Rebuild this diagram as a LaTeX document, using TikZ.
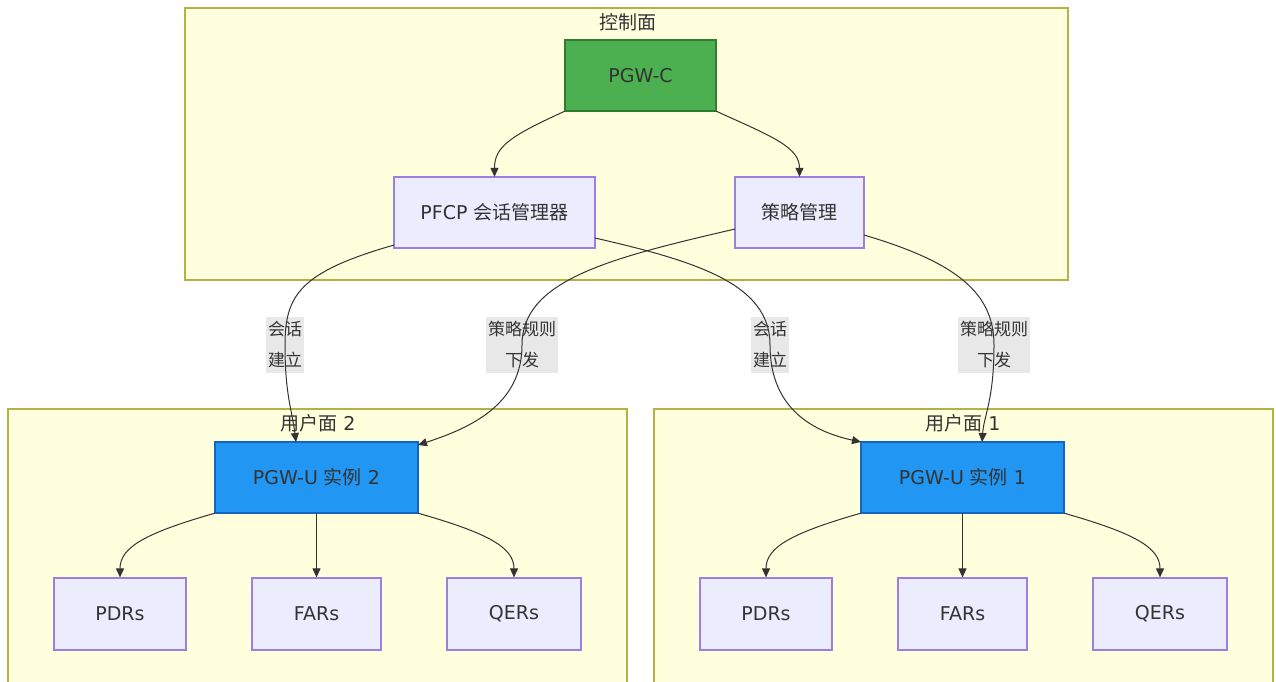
\documentclass[tikz,border=0pt]{standalone}
\usepackage{fontspec}
\setmainfont{DejaVu Sans}
\newfontfamily\cjk{Noto Sans CJK SC}
\usetikzlibrary{arrows.meta}
\definecolor{clfill}{HTML}{FFFFDE}
\definecolor{clline}{HTML}{AAAA33}
\definecolor{ndfill}{HTML}{ECECFF}
\definecolor{ndline}{HTML}{9370DB}
\definecolor{gfill}{HTML}{4CAF50}
\definecolor{gline}{HTML}{2E7D32}
\definecolor{bfill}{HTML}{2196F3}
\definecolor{bline}{HTML}{1565C0}
\definecolor{txt}{HTML}{333333}
\definecolor{lblbg}{HTML}{E8E8E8}
\begin{document}
\begin{tikzpicture}[x=1pt,y=-1pt,
  font=\fontsize{19}{23}\selectfont,
  cluster/.style={draw=clline!90,fill=clfill,line width=1.2pt},
  ctitle/.style={text=txt,inner sep=0pt,anchor=center},
  plain/.style={draw=ndline!90,fill=ndfill,line width=1.2pt,text=txt},
  green/.style={draw=gline,fill=gfill,line width=2.5pt,text=txt},
  blue/.style={draw=bline,fill=bfill,line width=1.8pt,text=txt},
  elabel/.style={fill=lblbg,text=txt,align=center,inner xsep=2pt,inner ysep=5pt,font=\fontsize{17}{31}\selectfont},
  edge/.style={draw=txt,line width=1pt,-{Triangle[length=9pt,width=8pt]}}]
\useasboundingbox (0,0) rectangle (1276,681);
\fill[white] (0,0) rectangle (1276,681);
% clusters
\draw[cluster] (185,8) rectangle (1068,280);
\node[ctitle] (t0) at (628,22) {\cjk 控制面};
\draw[cluster] (8,409) rectangle (627,690);
\node[ctitle] (t2) at (318,423) {{\cjk 用户面} 2};
\draw[cluster] (654,409) rectangle (1273,690);
\node[ctitle] (t1) at (963,423) {{\cjk 用户面} 1};
% nodes
\path[green] (565,40) rectangle (716,111);
\node[text=txt] (pgwc) at (640.5,75.5) [minimum width=151pt,minimum height=71pt] {PGW-C};
\path[plain] (394,177) rectangle (595,248);
\node[text=txt] (pfcp) at (494.5,212.5) [minimum width=201pt,minimum height=71pt] {PFCP {\cjk 会话管理器}};
\path[plain] (735,177) rectangle (864,248);
\node[text=txt] (pol) at (799.5,212.5) [minimum width=129pt,minimum height=71pt] {\cjk 策略管理};
\path[blue] (215,442) rectangle (418,513);
\node[text=txt] (u2) at (316.5,477.5) [minimum width=203pt,minimum height=71pt] {PGW-U {\cjk 实例} 2};
\path[blue] (861,442) rectangle (1064,513);
\node[text=txt] (u1) at (962.5,477.5) [minimum width=203pt,minimum height=71pt] {PGW-U {\cjk 实例} 1};
\node[plain,minimum width=132pt,minimum height=72pt] (pdr2) at (120,614) {PDRs};
\node[plain,minimum width=129pt,minimum height=72pt] (far2) at (316.5,614) {FARs};
\node[plain,minimum width=134pt,minimum height=72pt] (qer2) at (514,614) {QERs};
\node[plain,minimum width=132pt,minimum height=72pt] (pdr1) at (766,614) {PDRs};
\node[plain,minimum width=129pt,minimum height=72pt] (far1) at (962.5,614) {FARs};
\node[plain,minimum width=134pt,minimum height=72pt] (qer1) at (1160,614) {QERs};
% edge labels
\node[elabel] (l1) at (285,345) {{\cjk 会话}\\{\cjk 建立}};
\node[elabel] (l2) at (522,345) {{\cjk 策略规则}\\{\cjk 下发}};
\node[elabel] (l3) at (770,345) {{\cjk 会话}\\{\cjk 建立}};
\node[elabel] (l4) at (994,345) {{\cjk 策略规则}\\{\cjk 下发}};
% edges
\draw[edge] (pgwc.south west) .. controls +(-55,25) and +(0,-30) .. (pfcp.north);
\draw[edge] (pgwc.south east) .. controls +(55,25) and +(0,-30) .. (pol.north);
\draw[edge] (394,245) .. controls (300,272) and (285,295) .. (l1.center) .. controls (285,395) and (292,410) .. (296,442);
\draw[edge] (735,229) .. controls (610,258) and (522,280) .. (l2.center) .. controls (522,405) and (470,428) .. (418,445);
\draw[edge] (595,238) .. controls (700,262) and (770,285) .. (l3.center) .. controls (770,410) and (815,432) .. (861,442);
\draw[edge] (864,235) .. controls (955,262) and (994,292) .. (l4.center) .. controls (994,400) and (984,415) .. (982,442);
\draw[edge] (u2.south west) .. controls +(-70,20) and +(0,-30) .. (pdr2.north);
\draw[edge] (u2.south) -- (far2.north);
\draw[edge] (u2.south east) .. controls +(70,20) and +(0,-30) .. (qer2.north);
\draw[edge] (u1.south west) .. controls +(-70,20) and +(0,-30) .. (pdr1.north);
\draw[edge] (u1.south) -- (far1.north);
\draw[edge] (u1.south east) .. controls +(70,20) and +(0,-30) .. (qer1.north);
\end{tikzpicture}
\end{document}
